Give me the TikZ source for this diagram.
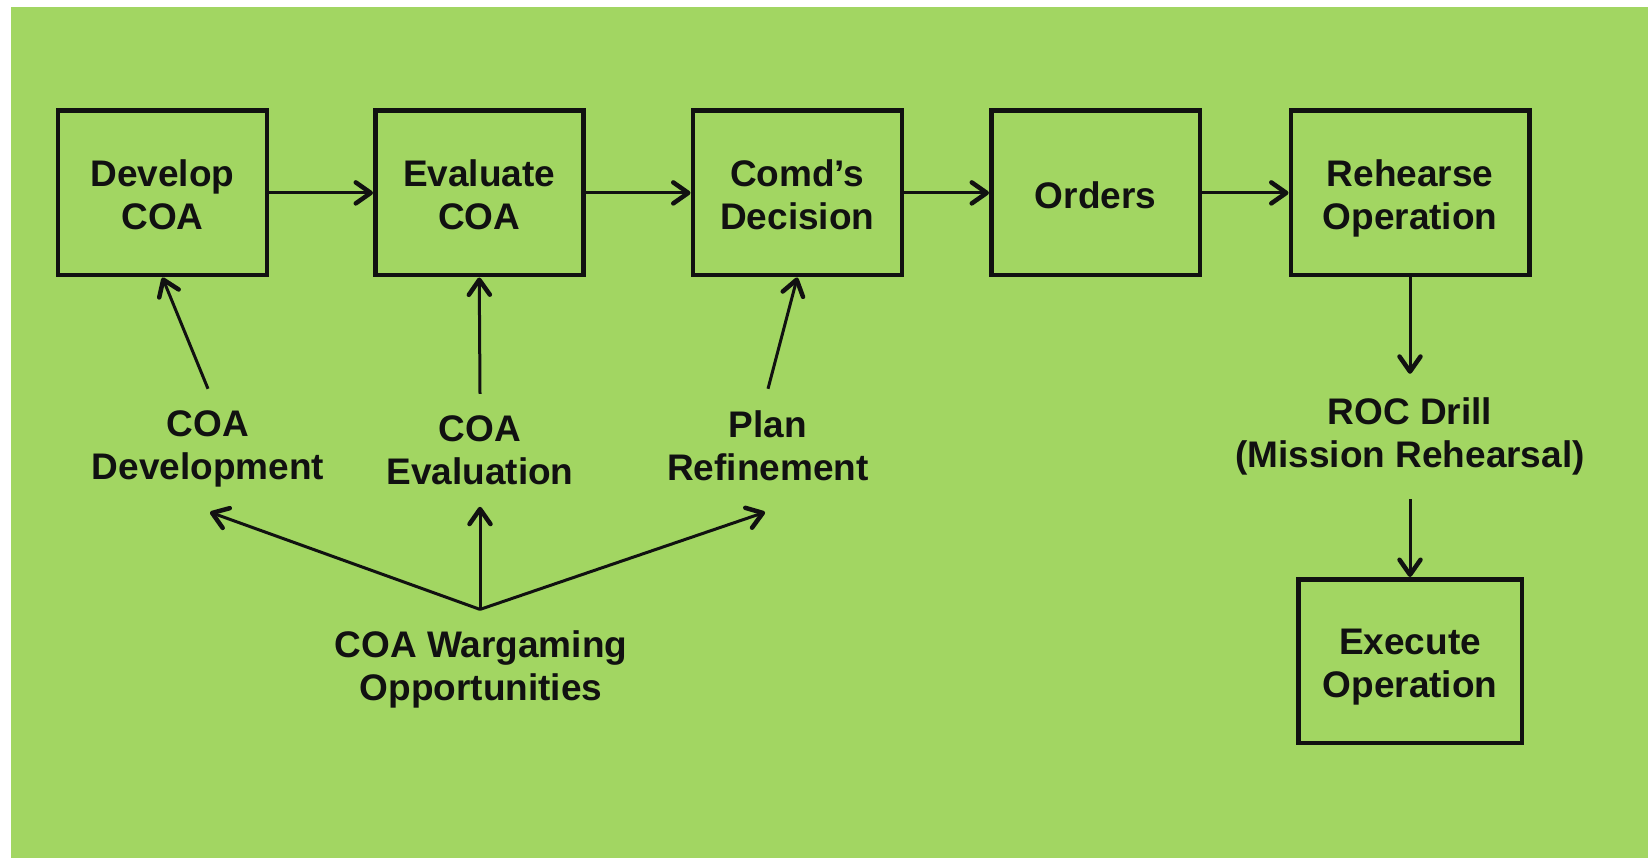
\documentclass[tikz,border=0pt]{standalone}
\usepackage{fontspec}
\setmainfont{Liberation Sans}
\usetikzlibrary{arrows.meta}
\definecolor{bg}{RGB}{162,214,98}
\definecolor{ink}{RGB}{17,17,17}
\newcommand\bxtop{\rule{0pt}{38.5pt}}
\newcommand\bxbot{\rule[-8pt]{0pt}{8pt}}
\newcommand\lbtop{\rule{0pt}{27pt}}
\newcommand\lbbot{\rule[-8pt]{0pt}{8pt}}
\begin{document}
\begin{tikzpicture}[x=1pt,y=-1pt,
  box/.style={draw=ink, line width=4.5pt, minimum width=209pt, minimum height=164.7pt,
    inner sep=0pt, align=center, text=ink, font=\bfseries\fontsize{37}{43}\selectfont},
  lbl/.style={inner sep=0pt, align=center, text=ink, font=\bfseries\fontsize{37}{43}\selectfont},
  arr/.style={draw=ink, line width=3pt,
    -{Straight Barb[length=15pt,width=21pt,line width=4.5pt,round]}}]
\useasboundingbox (0,0) rectangle (1648,858);
\fill[white] (0,0) rectangle (1648,858);
\fill[bg] (10.5,7.4) rectangle (1648,858);

% process boxes
\node[box] (dev) at (162.4,192.9) {\bxtop Develop\\COA\bxbot};
\node[box, minimum width=208pt] (eva) at (479.25,192.9) {\bxtop Evaluate\\COA\bxbot};
\node[box] (com) at (797.25,192.9) {\bxtop Comd’s\\Decision\bxbot};
\node[box, minimum width=208.5pt] (ord) at (1095.5,192.9) {\bxtop Orders\bxbot};
\node[box, minimum width=238.5pt] (reh) at (1410,192.9) {\bxtop Rehearse\\Operation\bxbot};
\node[box, minimum width=223.5pt, minimum height=163.5pt] (exe) at (1410,661) {\bxtop Execute\\Operation\bxbot};

% labels
\node[lbl] (cdev) at (208,448.3) {\lbtop COA\\Development\lbbot};
\node[lbl] (ceva) at (480,453.3) {\lbtop COA\\Evaluation\lbbot};
\node[lbl] (cplan) at (768,449.3) {\lbtop Plan\\Refinement\lbbot};
\node[lbl] (roc) at (1410,436.8) {\lbtop ROC Drill\\(Mission Rehearsal)\lbbot};
\node[lbl] (war) at (481,669.8) {\lbtop COA Wargaming\\Opportunities\lbbot};
\coordinate (apex) at ([yshift=21.2pt,xshift=-1pt]war.north);

% main flow
\draw[arr] (dev.east) -- (eva.west);
\draw[arr] (eva.east) -- (com.west);
\draw[arr] (com.east) -- (ord.west);
\draw[arr] (ord.east) -- (reh.west);
\draw[arr] (reh.south) -- ([yshift=23.8pt]roc.north);
\draw[arr] ([yshift=-23.2pt]roc.south) -- (exe.north);

% label arrows
\draw[arr] ([yshift=20.3pt]cdev.north) -- (dev.south);
\draw[arr] ([yshift=20.3pt]ceva.north) -- (eva.south);
\draw[arr] ([yshift=21.3pt]cplan.north) -- (com.south);

% wargaming arrows
\draw[arr] (apex) -- ([yshift=-24.7pt,xshift=2pt]cdev.south);
\draw[arr] (apex) -- ([yshift=-14.3pt]ceva.south);
\draw[arr] (apex) -- ([yshift=-23.7pt,xshift=-3pt]cplan.south);
\end{tikzpicture}
\end{document}
